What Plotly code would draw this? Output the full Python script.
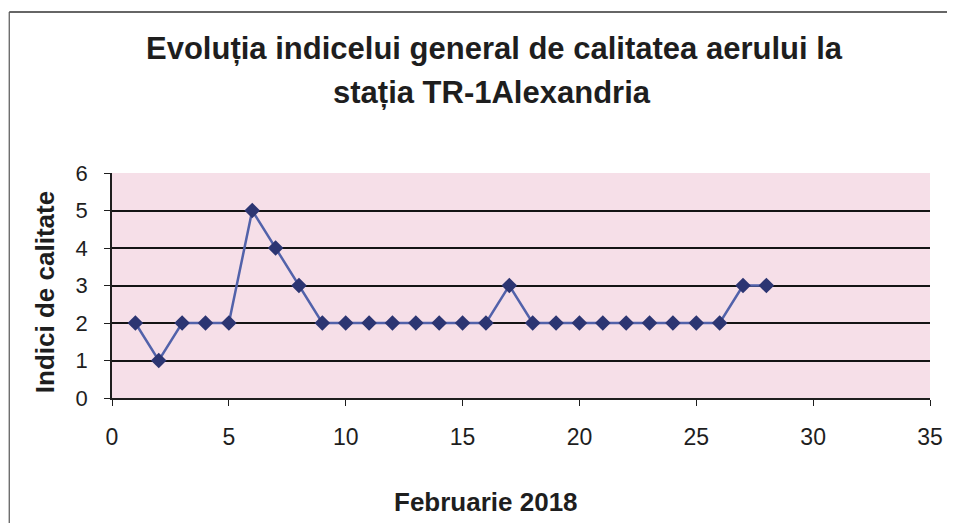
import plotly.graph_objects as go

days = list(range(1, 29))
indici = [2, 1, 2, 2, 2, 5, 4, 3, 2, 2, 2, 2, 2, 2, 2, 2, 3, 2, 2, 2, 2, 2, 2, 2, 2, 2, 3, 3]
x_ticks = [0, 5, 10, 15, 20, 25, 30, 35]
y_ticks = [0, 1, 2, 3, 4, 5, 6]
title_lines = ["Evoluția indicelui general de calitatea aerului la", "stația TR-1Alexandria"]
x_title = "Februarie 2018"
y_title = "Indici de calitate"

OFF = 8  # page body margin
W, H = 955 - OFF, 523 - OFF
# plot area in page pixels
PL, PR, PT, PB = 112, 932, 173, 398
L, R, T, B = PL - OFF, W - (PR - OFF), PT - OFF, H - (PB - OFF)
pw, ph = W - L - R, H - T - B

def px(xp):
    return (xp - OFF - L) / pw

def py(yp):
    return (H - B - (yp - OFF)) / ph

fig = go.Figure()
fig.add_trace(go.Scatter(
    x=days, y=indici, mode="lines+markers",
    line=dict(color="#5262aa", width=2.5),
    marker=dict(symbol="diamond", size=12, color="#2c3572"),
    showlegend=False,
))

font = "Liberation Sans, Arial, sans-serif"
ink = "#1e1e1e"
fig.update_layout(
    width=W, height=H,
    margin=dict(l=L, r=R, t=T, b=B),
    paper_bgcolor="white",
    plot_bgcolor="#f6dfe8",
    font=dict(family=font, color=ink),
    xaxis=dict(range=[0, 35], tickvals=x_ticks, showgrid=False, zeroline=False,
               showline=True, linecolor=ink, linewidth=1.5, ticks="outside",
               ticklen=6, tickcolor=ink, ticklabelstandoff=12,
               tickfont=dict(size=23, color=ink)),
    yaxis=dict(range=[0, 6], tickvals=y_ticks, showgrid=True, gridcolor="#141414",
               gridwidth=2, zeroline=False, showline=True, linecolor=ink,
               linewidth=1.5, ticks="outside", ticklen=6, tickcolor=ink,
               ticklabelstandoff=12, tickfont=dict(size=22, color=ink)),
)

annotations = [
    dict(text="<b>" + title_lines[0] + "</b>", x=px(495), y=py(48), xref="paper", yref="paper",
         showarrow=False, font=dict(size=31, family=font, color=ink), xanchor="center", yanchor="middle"),
    dict(text="<b>" + title_lines[1] + "</b>", x=px(493), y=py(93), xref="paper", yref="paper",
         showarrow=False, font=dict(size=31, family=font, color=ink), xanchor="center", yanchor="middle"),
    dict(text="<b>" + x_title + "</b>", x=px(487), y=py(502), xref="paper", yref="paper",
         showarrow=False, font=dict(size=26, family=font, color=ink), xanchor="center", yanchor="middle"),
    dict(text="<b>" + y_title + "</b>", x=px(45), y=py(292), xref="paper", yref="paper",
         showarrow=False, textangle=-90, font=dict(size=26, family=font, color=ink),
         xanchor="center", yanchor="middle"),
]
fig.update_layout(annotations=annotations)

fig.add_shape(type="line", xref="paper", yref="paper", x0=px(9), x1=px(955), y0=py(12), y1=py(12),
              line=dict(color="#333", width=1.5))
fig.add_shape(type="line", xref="paper", yref="paper", x0=px(9), x1=px(9), y0=py(12), y1=py(523),
              line=dict(color="#555", width=1.2))

fig.write_html("out.html")
